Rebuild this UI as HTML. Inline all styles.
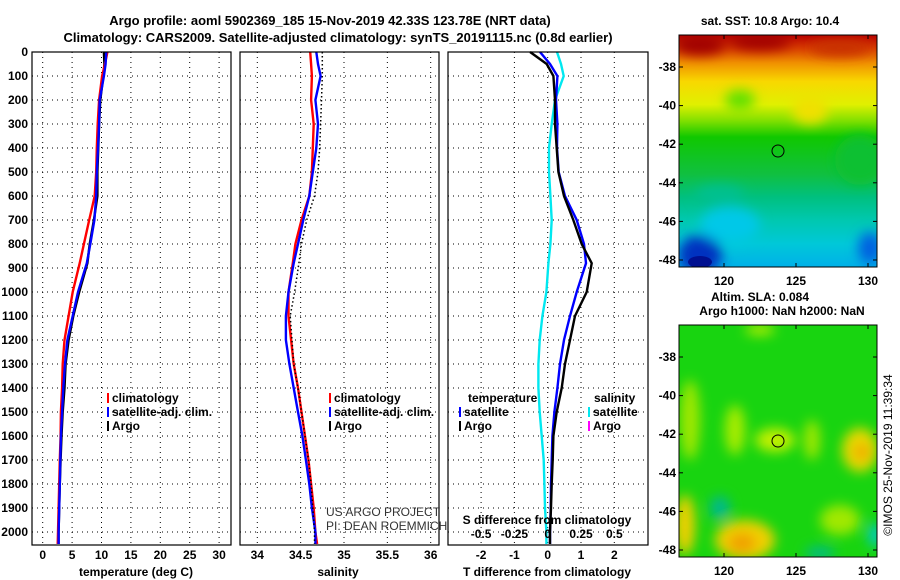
<!DOCTYPE html>
<html><head><meta charset="utf-8"><style>
html,body{margin:0;padding:0;background:#fff;}
svg{display:block;font-family:"Liberation Sans",Arial,sans-serif;}
.b{font-weight:bold;font-size:12px;fill:#000;}
.t{font-weight:bold;font-size:13px;fill:#000;}
.grid{stroke:#000;stroke-width:1;stroke-dasharray:1,4;}
</style></head><body>
<svg id="root" width="900" height="580" viewBox="0 0 900 580">
<defs>
<linearGradient id="sstg" x1="0" y1="0" x2="0" y2="1">
<stop offset="0" stop-color="#b80000"/><stop offset="0.06" stop-color="#d84000"/>
<stop offset="0.12" stop-color="#f09000"/><stop offset="0.2" stop-color="#f8d800"/>
<stop offset="0.3" stop-color="#e0f000"/><stop offset="0.37" stop-color="#80e000"/>
<stop offset="0.44" stop-color="#10c800"/><stop offset="0.6" stop-color="#10c040"/>
<stop offset="0.7" stop-color="#00c080"/><stop offset="0.8" stop-color="#00c8b0"/>
<stop offset="0.9" stop-color="#00c8d8"/><stop offset="1" stop-color="#00b0e8"/>
</linearGradient>
<filter id="blur"><feGaussianBlur stdDeviation="6"/></filter>
<clipPath id="c1"><rect x="679" y="35" width="198" height="232"/></clipPath>
<clipPath id="c2"><rect x="679" y="325" width="198" height="232"/></clipPath>
</defs>
<text class="t" x="330" y="25" text-anchor="middle">Argo profile: aoml 5902369_185 15-Nov-2019 42.33S 123.78E (NRT data)</text>
<text class="t" x="338" y="42" text-anchor="middle">Climatology: CARS2009. Satellite-adjusted climatology: synTS_20191115.nc (0.8d earlier)</text>
<g id="panels"></g>
<!-- SST map -->
<g>
<text class="b" x="770" y="25" text-anchor="middle">sat. SST: 10.8 Argo: 10.4</text>
<g clip-path="url(#c1)">
<rect x="679" y="35" width="198" height="232" fill="url(#sstg)"/>
<g filter="url(#blur)">
<ellipse cx="700" cy="45" rx="25" ry="10" fill="#a00000"/>
<ellipse cx="760" cy="42" rx="30" ry="8" fill="#a00000"/>
<ellipse cx="840" cy="48" rx="30" ry="8" fill="#c83000"/>
<ellipse cx="810" cy="110" rx="18" ry="14" fill="#f0e000"/>
<ellipse cx="740" cy="100" rx="15" ry="10" fill="#60e000"/>
<ellipse cx="860" cy="160" rx="25" ry="25" fill="#10c030"/>
<ellipse cx="700" cy="255" rx="22" ry="20" fill="#0030c0"/>
<ellipse cx="870" cy="248" rx="12" ry="16" fill="#0060e0"/>
<ellipse cx="730" cy="225" rx="30" ry="18" fill="#00c8e8"/>
<ellipse cx="720" cy="195" rx="25" ry="10" fill="#00c090"/>
</g>
<ellipse cx="700" cy="262" rx="12" ry="6" fill="#001090"/>
</g>
<rect x="679" y="35" width="198" height="232" fill="none" stroke="#000"/>
<circle cx="778" cy="151" r="6" fill="none" stroke="#000"/>
</g>
<!-- SLA map -->
<g>
<text class="b" x="760" y="301" text-anchor="middle">Altim. SLA: 0.084</text>
<text class="b" x="782" y="315" text-anchor="middle">Argo h1000: NaN h2000: NaN</text>
<g clip-path="url(#c2)">
<rect x="679" y="325" width="198" height="232" fill="#18d410"/>
<g filter="url(#blur)">
<ellipse cx="690" cy="420" rx="10" ry="40" fill="#a0e800"/>
<ellipse cx="735" cy="430" rx="10" ry="25" fill="#a8ec00"/>
<ellipse cx="775" cy="440" rx="20" ry="12" fill="#c0f000"/>
<ellipse cx="812" cy="440" rx="8" ry="20" fill="#a0e800"/>
<ellipse cx="860" cy="450" rx="18" ry="22" fill="#e8d800"/>
<ellipse cx="862" cy="452" rx="8" ry="8" fill="#f0a800"/>
<ellipse cx="685" cy="525" rx="10" ry="30" fill="#f0d000"/>
<ellipse cx="745" cy="540" rx="30" ry="20" fill="#f0d000"/>
<ellipse cx="742" cy="543" rx="14" ry="10" fill="#f0a000"/>
<ellipse cx="720" cy="508" rx="10" ry="12" fill="#00b890"/>
<ellipse cx="820" cy="553" rx="15" ry="6" fill="#00b890"/>
<ellipse cx="875" cy="535" rx="6" ry="12" fill="#00c8e0"/>
<ellipse cx="760" cy="330" rx="15" ry="5" fill="#c0f000"/>
<ellipse cx="840" cy="520" rx="20" ry="15" fill="#a0e800"/>
</g>
</g>
<rect x="679" y="325" width="198" height="232" fill="none" stroke="#000"/>
<circle cx="778" cy="441" r="6" fill="none" stroke="#000"/>
</g>
<text x="892" y="455" font-size="12" text-anchor="middle" transform="rotate(-90 892 455)">©IMOS 25-Nov-2019 11:39:34</text>
<g id="mapaxes"></g>
</svg>
<script>
// ---- profile data ----
const depths = [0,50,100,200,300,400,500,600,700,800,880,1000,1100,1200,1300,1400,1500,1600,1700,1800,1900,2000,2050];
const tempClim = [11.0,10.6,10.1,9.6,9.35,9.2,9.1,8.85,7.9,7.0,6.3,5.1,4.4,3.7,3.4,3.3,3.1,3.05,2.9,2.8,2.7,2.6,2.55];
const tempSat = [10.8,10.7,10.4,9.7,9.6,9.4,9.2,9.1,8.8,8.1,7.5,6.0,5.1,4.2,3.8,3.5,3.3,3.1,3.0,2.9,2.8,2.7,2.7];
const tempArgo = [10.4,10.5,10.3,9.8,9.6,9.45,9.3,9.3,8.7,8.0,7.6,6.2,5.2,4.4,3.9,3.7,3.4,3.2,3.05,2.9,2.8,2.7,2.7];
const salClim = [34.61,34.62,34.63,34.62,34.65,34.64,34.63,34.60,34.51,34.44,34.41,34.36,34.36,34.39,34.42,34.47,34.51,34.55,34.59,34.62,34.65,34.67,34.69];
const salSat = [34.68,34.70,34.73,34.67,34.70,34.68,34.64,34.60,34.53,34.47,34.42,34.36,34.33,34.33,34.37,34.42,34.47,34.52,34.56,34.60,34.63,34.67,34.67];
const salArgo = [34.75,34.75,34.75,34.74,34.73,34.72,34.70,34.66,34.57,34.51,34.48,34.43,34.38,34.40,34.42,34.47,34.51,34.55,34.59,34.62,34.64,34.66,34.66];
const dTSat = [-0.23,0.07,0.29,0.25,0.29,0.28,0.33,0.52,0.87,1.09,1.15,0.87,0.67,0.49,0.37,0.29,0.2,0.14,0.12,0.1,0.09,0.07,0.07];
const dTArgo = [-0.53,-0.03,0.17,0.22,0.22,0.27,0.32,0.49,0.77,1.02,1.32,1.17,0.82,0.67,0.52,0.42,0.27,0.17,0.15,0.12,0.1,0.07,0.07];
const dSSat = [0.07,0.1,0.12,0.055,0.03,0.01,0.01,0.02,0.03,0.02,0.005,-0.01,-0.04,-0.06,-0.07,-0.07,-0.06,-0.045,-0.03,-0.025,-0.02,-0.01,-0.01];
const depthTicks = [0,100,200,300,400,500,600,700,800,900,1000,1100,1200,1300,1400,1500,1600,1700,1800,1900,2000];
const tempTicks = [0,5,10,15,20,25,30];
const salTicks = [34,34.5,35,35.5,36];
const dTTicks = [-2,-1,0,1,2];
const dSTicks = [-0.5,-0.25,0,0.25,0.5];
const latTicks = [-38,-40,-42,-44,-46,-48];
const lonTicks = [120,125,130];

const NS='http://www.w3.org/2000/svg';
const root=document.getElementById('panels');
function mk(tag,attrs,parent,text){const e=document.createElementNS(NS,tag);for(const k in attrs)e.setAttribute(k,attrs[k]);if(text!==undefined)e.textContent=text;(parent||root).appendChild(e);return e;}
const PT=52,PB=545;
const yD=d=>PT+d*0.24;
const xT=v=>42.7+v*5.88;
const xS=v=>257.3+(v-34)*86.7;
const xDT=v=>547.7+v*33.3;
const xDS=v=>547.7+v*133.2;

function frame(x0,x1,name){
  const g=mk('g',{});
  
  
  depthTicks.forEach(d=>{const l=mk('line',{x1:x0,x2:x1,y1:yD(d),y2:yD(d),class:'grid'},g);
    
    });
  return g;
}
function vgrid(g,ticks,fx,labels){
  ticks.forEach((t,i)=>{const x=fx(t);
    const l=mk('line',{x1:x,x2:x,y1:PT,y2:PB,class:'grid'},g);
    
    
    const tx=mk('text',{x:x,y:559,class:'b','text-anchor':'middle'},g,labels?labels[i]:String(t));
    
    });
}
function line(g,xs,fx,color,name,dash){
  const pts=depths.map((d,i)=>fx(xs[i]).toFixed(1)+','+yD(d).toFixed(1)).join(' ');
  const p=mk('polyline',{points:pts,fill:'none',stroke:color,'stroke-width':dash?1.5:2.4},g);
  if(dash)p.setAttribute('stroke-dasharray','1.5,2.5');
  
  
}
function box(g,x0,x1){mk('rect',{x:x0,y:PT,width:x1-x0,height:PB-PT,fill:'none',stroke:'#000','stroke-width':1.2},g);}
function legend(g,x,y,items){
  items.forEach((it,i)=>{const yy=y+i*14;
    mk('rect',{x:x,y:yy-9,width:2,height:10,fill:it[1]},g);
    const t=mk('text',{x:x+5,y:yy,class:'b'},g,it[0]);
    
    });
}

// Panel 1 temperature
const g1=frame(32,231,'temperature-panel');
vgrid(g1,tempTicks,xT);
depthTicks.forEach(d=>{const t=mk('text',{x:28,y:yD(d)+4,class:'b','text-anchor':'end'},g1,String(d));
  
  });
line(g1,tempArgo,xT,'#000','temp-argo-line');
line(g1,tempClim,xT,'#f00','temp-climatology-line');
line(g1,tempSat,xT,'#00f','temp-satellite-line');
box(g1,32,231);
legend(g1,107,402,[['climatology','#f00'],['satellite-adj. clim.','#00f'],['Argo','#000']]);
mk('text',{x:136,y:576,class:'b','text-anchor':'middle'},g1,'temperature (deg C)');

// Panel 2 salinity
const g2=frame(240,439,'salinity-panel');
vgrid(g2,salTicks,xS,['34','34.5','35','35.5','36']);
line(g2,salClim,xS,'#f00','sal-climatology-line');
line(g2,salSat,xS,'#00f','sal-satellite-line');
line(g2,salArgo,xS,'#000','sal-argo-line',true);
box(g2,240,439);
legend(g2,329,402,[['climatology','#f00'],['satellite-adj. clim.','#00f'],['Argo','#000']]);
mk('text',{x:338,y:576,class:'b','text-anchor':'middle'},g2,'salinity');
mk('text',{x:326,y:516,'font-size':'12',fill:'#333'},g2,'US ARGO PROJECT');
mk('text',{x:326,y:530,'font-size':'12',fill:'#333'},g2,'PI: DEAN ROEMMICH');

// Panel 3 differences
const g3=frame(448,648,'difference-panel');
vgrid(g3,dTTicks,xDT);
line(g3,dSSat,xDS,'#00e8f0','salinity-diff-satellite-line');
line(g3,dTSat,xDT,'#00f','temp-diff-satellite-line');
line(g3,dTArgo,xDT,'#000','temp-diff-argo-line');
box(g3,448,648);
mk('text',{x:468,y:402,class:'b'},g3,'temperature');
legend(g3,459,416,[['satellite','#00f'],['Argo','#000']]);
mk('text',{x:594,y:402,class:'b'},g3,'salinity');
legend(g3,588,416,[['satellite','#00e8f0'],['Argo','#f0f']]);
mk('text',{x:547,y:524,class:'b','text-anchor':'middle'},g3,'S difference from climatology');
const dsl=['-0.5','-0.25','0','0.25','0.5'];
dSTicks.forEach((t,i)=>{const e=mk('text',{x:xDS(t),y:538,class:'b','text-anchor':'middle'},g3,dsl[i]);
  
  });
mk('text',{x:547,y:576,class:'b','text-anchor':'middle'},g3,'T difference from climatology');

// map axes
const ma=document.getElementById('mapaxes');
function mapAxes(top,lat38){
  const yl=l=>lat38+(-38-l)*19.3;
  latTicks.forEach(l=>{const y=yl(l);
    mk('line',{x1:679,x2:683,y1:y,y2:y,stroke:'#000'},ma);
    mk('line',{x1:873,x2:877,y1:y,y2:y,stroke:'#000'},ma);
    const t=mk('text',{x:676,y:y+4,class:'b','text-anchor':'end'},ma,String(l));
    
    });
  lonTicks.forEach(l=>{const x=724+(l-120)*14.4;
    mk('line',{x1:x,x2:x,y1:top,y2:top+4,stroke:'#000'},ma);
    mk('line',{x1:x,x2:x,y1:top+228,y2:top+232,stroke:'#000'},ma);
    const t=mk('text',{x:x,y:top+250,class:'b','text-anchor':'middle'},ma,String(l));
    
    });
}
mapAxes(35,67);
mapAxes(325,357);
</script>
</body></html>
